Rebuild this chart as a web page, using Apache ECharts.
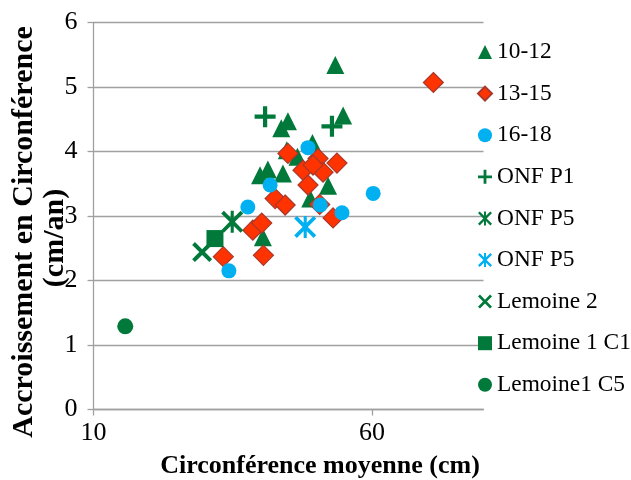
<!DOCTYPE html>
<html>
<head>
<meta charset="utf-8">
<script src="https://cdn.jsdelivr.net/npm/echarts@6/dist/echarts.min.js"></script>
<style>
  html, body { margin: 0; padding: 0; background: #fff; }
  #chart { width: 631px; height: 480px; }
</style>
</head>
<body>
<div id="chart"></div>
<script>
// Mean circumference (cm) vs. yearly circumference growth (cm/year)
const seriesNames = ['10-12', '13-15', '16-18', 'ONF P1', 'ONF P5', 'ONF P5 ', 'Lemoine 2', 'Lemoine 1 C1', 'Lemoine1 C5'];

const age10to12 = [
  [53.4, 5.34], [54.8, 4.56], [44.9, 4.47], [43.7, 4.36], [49.3, 4.13], [44.7, 4.02],
  [46.6, 3.92], [41.3, 3.72], [39.9, 3.63], [44.0, 3.66], [52.1, 3.47], [48.9, 3.27],
  [40.4, 2.67]
];
const age13to15 = [
  [71.0, 5.07], [44.9, 3.97], [47.6, 3.71], [50.3, 3.89], [51.2, 3.68], [53.7, 3.82],
  [49.4, 3.79], [48.5, 3.48], [42.6, 3.27], [44.4, 3.17], [50.6, 3.18], [53.0, 2.97],
  [38.6, 2.78], [40.2, 2.89], [40.5, 2.39], [33.3, 2.37]
];
const age16to18 = [
  [48.5, 4.06], [41.7, 3.48], [37.7, 3.14], [60.2, 3.35], [50.7, 3.17], [54.6, 3.05], [34.3, 2.15]
];
const onfP1 = [[40.8, 4.54], [52.8, 4.39]];
const onfP5Green = [[34.9, 2.91]];
const onfP5Blue = [[48.0, 2.83]];
const lemoine2 = [[29.5, 2.44]];
const lemoine1C1 = [[31.8, 2.65]];
const lemoine1C5 = [[15.7, 1.29]];

const xTicks = [10, 60];
const yTicks = [0, 1, 2, 3, 4, 5, 6];

const GREEN = '#00793A';
const BLUE = '#00B0F0';
const RED = '#FF3300';
const GRID = '#A0A0A0';
const FONT = '"Liberation Serif", "Times New Roman", serif';

const PLUS = 'path://M4,0H6V4H10V6H6V10H4V6H0V4H4Z';
const CROSS = 'path://M0,1.4L1.4,0L5,3.6L8.6,0L10,1.4L6.4,5L10,8.6L8.6,10L5,6.4L1.4,10L0,8.6L3.6,5Z';
const STAR = 'path://M0,1.2L1.2,0L5,3.8L8.8,0L10,1.2L6.2,5L10,8.8L8.8,10L5,6.2L1.2,10L0,8.8L3.8,5Z M4.3,0H5.7V10H4.3Z';

function scatter(name, data, symbol, size, color, extra) {
  return Object.assign({
    name: name,
    type: 'scatter',
    data: data,
    symbol: symbol,
    symbolSize: size,
    symbolKeepAspect: true,
    itemStyle: { color: color, opacity: 1 },
    emphasis: { disabled: true }
  }, extra || {});
}

const chart = echarts.init(document.getElementById('chart'), null, { renderer: 'canvas' });

chart.setOption({
  animation: false,
  backgroundColor: '#fff',
  textStyle: { fontFamily: FONT },
  grid: { left: 93.5, right: 147.5, top: 22.5, bottom: 70.5, containLabel: false },
  xAxis: {
    type: 'value',
    min: 10,
    max: 80,
    axisLine: { show: true, onZero: false, lineStyle: { color: GRID, width: 1.3 } },
    axisTick: { show: true, length: 6, customValues: xTicks, lineStyle: { color: GRID, width: 1.3 } },
    axisLabel: { customValues: xTicks, color: '#000', fontFamily: FONT, fontSize: 26, margin: 11 },
    splitLine: { show: false }
  },
  yAxis: {
    type: 'value',
    min: 0,
    max: 6,
    interval: 1,
    axisLine: { show: true, lineStyle: { color: GRID, width: 1.3 } },
    axisTick: { show: true, length: 6, lineStyle: { color: GRID, width: 1.3 } },
    axisLabel: { color: '#000', fontFamily: FONT, fontSize: 26, margin: 16,
      customValues: yTicks },
    splitLine: { show: true, lineStyle: { color: GRID, width: 1.3 } }
  },
  legend: {
    orient: 'vertical',
    left: 477,
    top: 40,
    padding: 0,
    itemWidth: 14,
    itemHeight: 14,
    itemGap: 17.6,
    selectedMode: false,
    textStyle: { color: '#000', fontFamily: FONT, fontSize: 23.4, lineHeight: 24 },
    data: seriesNames
  },
  graphic: [
    {
      type: 'text',
      x: 320, y: 466,
      style: { text: 'Circonférence moyenne (cm)', fill: '#000', fontFamily: FONT,
        fontWeight: 'bold', fontSize: 26, textAlign: 'center', textVerticalAlign: 'middle' }
    },
    {
      type: 'text',
      x: 24, y: 232,
      rotation: Math.PI / 2,
      style: { text: 'Accroissement en Circonférence', fill: '#000', fontFamily: FONT,
        fontWeight: 'bold', fontSize: 30, textAlign: 'center', textVerticalAlign: 'middle' }
    },
    {
      type: 'text',
      x: 55, y: 238,
      rotation: Math.PI / 2,
      style: { text: '(cm/an)', fill: '#000', fontFamily: FONT,
        fontWeight: 'bold', fontSize: 30, textAlign: 'center', textVerticalAlign: 'middle' }
    }
  ],
  series: [
    scatter(seriesNames[0], age10to12, 'triangle', 18, GREEN),
    scatter(seriesNames[1], age13to15, 'diamond', 20, RED,
      { itemStyle: { color: RED, borderColor: '#A8382C', borderWidth: 1.2, opacity: 1 } }),
    scatter(seriesNames[2], age16to18, 'circle', 15, BLUE),
    scatter(seriesNames[3], onfP1, PLUS, 21, GREEN),
    scatter(seriesNames[4], onfP5Green, STAR, 22, GREEN),
    scatter(seriesNames[5], onfP5Blue, STAR, 22, BLUE),
    scatter(seriesNames[6], lemoine2, CROSS, 20, GREEN),
    scatter(seriesNames[7], lemoine1C1, 'rect', 17, GREEN),
    scatter(seriesNames[8], lemoine1C5, 'circle', 16, GREEN)
  ]
});
</script>
</body>
</html>
